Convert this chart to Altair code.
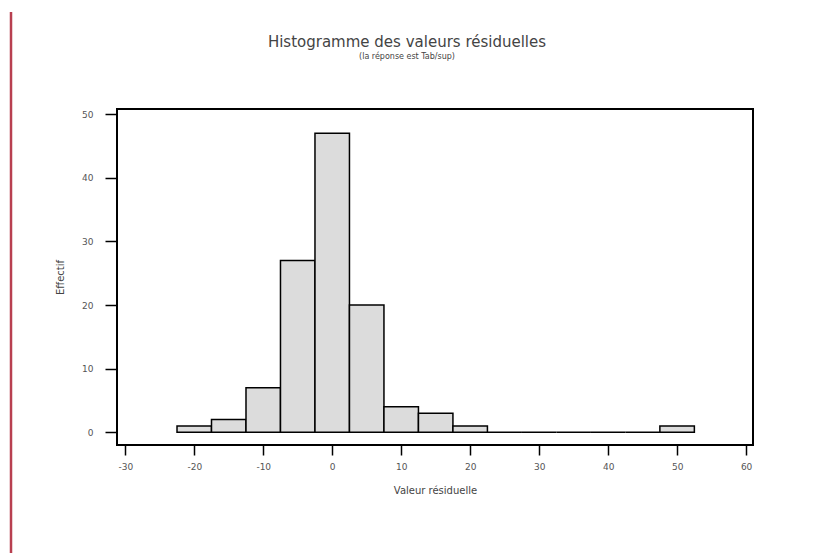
import altair as alt
import pandas as pd

# Histogram data (bin centres and counts)
bin_centers = [-20, -15, -10, -5, 0, 5, 10, 15, 20, 25, 30, 35, 40, 45, 50]
counts = [1, 2, 7, 27, 47, 20, 4, 3, 1, 0, 0, 0, 0, 0, 1]
bin_width = 5

x_ticks = [-30, -20, -10, 0, 10, 20, 30, 40, 50, 60]
y_ticks = [0, 10, 20, 30, 40, 50]

title_text = "Histogramme des valeurs résiduelles"
subtitle_text = "(la réponse est Tab/sup)"

df = pd.DataFrame({"centre": bin_centers, "effectif": counts})

FONT = "DejaVu Sans"
W, H = 636, 336

bars = alt.Chart(df).transform_calculate(
    start=f"datum.centre - {bin_width}/2",
    end=f"datum.centre + {bin_width}/2",
).mark_bar(
    fill="#dcdcdc", stroke="black", strokeWidth=1.5, binSpacing=0
).encode(
    x=alt.X("start:Q",
            scale=alt.Scale(domain=[-31.2, 61.0], nice=False, zero=False),
            axis=alt.Axis(values=x_ticks, title="Valeur résiduelle", grid=False,
                          domain=False, tickSize=10, tickWidth=1.5, tickColor="black",
                          labelFontSize=9, labelColor="#555", labelFont=FONT,
                          labelExpr="'' + datum.value",
                          labelPadding=7, titleFont=FONT, titleFontSize=10,
                          titleFontWeight="normal", titleColor="#444",
                          titlePadding=14)),
    x2="end:Q",
    y=alt.Y("effectif:Q",
            scale=alt.Scale(domain=[-2.0, 50.8], nice=False, zero=False),
            axis=alt.Axis(values=y_ticks, title="Effectif", grid=False,
                          domain=False, tickSize=12, tickWidth=1.5, tickColor="black",
                          labelFontSize=9, labelColor="#555", labelFont=FONT,
                          labelPadding=12, titleFont=FONT, titleFontSize=10,
                          titleFontWeight="normal", titleColor="#444",
                          titlePadding=16)),
    y2=alt.Y2(datum=0),
)

one = alt.Chart(df).transform_filter("datum.centre == 0")

frame = one.mark_rect(fill=None, stroke="black", strokeWidth=2).encode(
    x=alt.value(0), x2=alt.value(W), y=alt.value(0), y2=alt.value(H)
)

red_line = one.mark_rule(color="#b84050", strokeWidth=2.5).encode(
    x=alt.value(-106), y=alt.value(-97), y2=alt.value(444)
)

title = one.mark_text(font=FONT, fontSize=15, color="#444", align="center",
                      baseline="middle").encode(
    x=alt.value(W / 2 - 28), y=alt.value(-67), text=alt.value(title_text)
)
subtitle = one.mark_text(font=FONT, fontSize=8, color="#444", align="center",
                         baseline="middle").encode(
    x=alt.value(W / 2 - 28), y=alt.value(-52), text=alt.value(subtitle_text)
)

chart = alt.layer(bars, frame, red_line, title, subtitle).properties(
    width=W,
    height=H,
    autosize=alt.AutoSizeParams(type="none"),
    padding={"left": 117, "top": 109, "right": 69, "bottom": 108},
).configure_view(strokeWidth=0).configure(background="white")

chart.save("out.html", embed_options={"renderer": "svg", "actions": False})
